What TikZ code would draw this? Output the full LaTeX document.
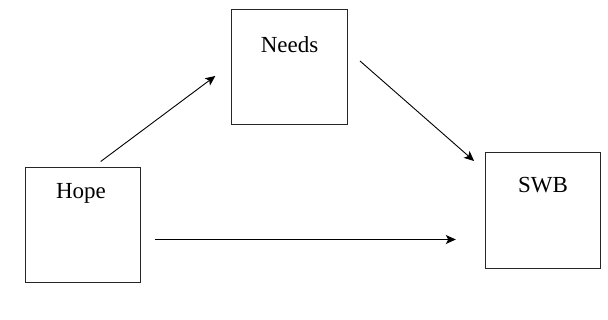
\documentclass[tikz,border=0pt]{standalone}
\usepackage{fontspec}
\setmainfont{Liberation Serif}
\usepackage{tikz}
\usetikzlibrary{arrows.meta}

\tikzset{
  varbox/.style={draw=black!85, line width=0.9pt, minimum width=115.5pt,
    minimum height=115.5pt, inner sep=0pt},
  varname/.style={anchor=base, inner sep=0pt, font=\fontsize{23}{27}\selectfont}
}

\begin{document}
\begin{tikzpicture}[x=1pt,y=-1pt,>={Stealth[length=10pt,width=9pt,inset=2.5pt]}]
\useasboundingbox (0,0) rectangle (608,320);
% Variables
\node[varbox, label={[varname, xshift=-2pt, yshift=-32pt]north:Hope}] (hope) at (83,225) {};
\node[varbox, label={[varname, yshift=-43.4pt]north:Needs}] (needs) at (289.5,67) {};
\node[varbox, label={[varname, yshift=-40.4pt]north:SWB}] (swb) at (543,210.5) {};
% Paths (arrows stop short of the boxes)
\draw[->, line width=0.9pt] ([shift={(17.7,-5.3)}]hope.north) -- ([shift={(-16,9)}]needs.west);
\draw[->, line width=0.9pt] ([shift={(12.3,-6)}]needs.east) -- ([shift={(-10.7,8.7)}]swb.north west);
% Direct path
\draw[->, line width=0.9pt] ([shift={(13.3,14.5)}]hope.east) -- ([shift={(-29,29)}]swb.west);
\end{tikzpicture}
\end{document}
